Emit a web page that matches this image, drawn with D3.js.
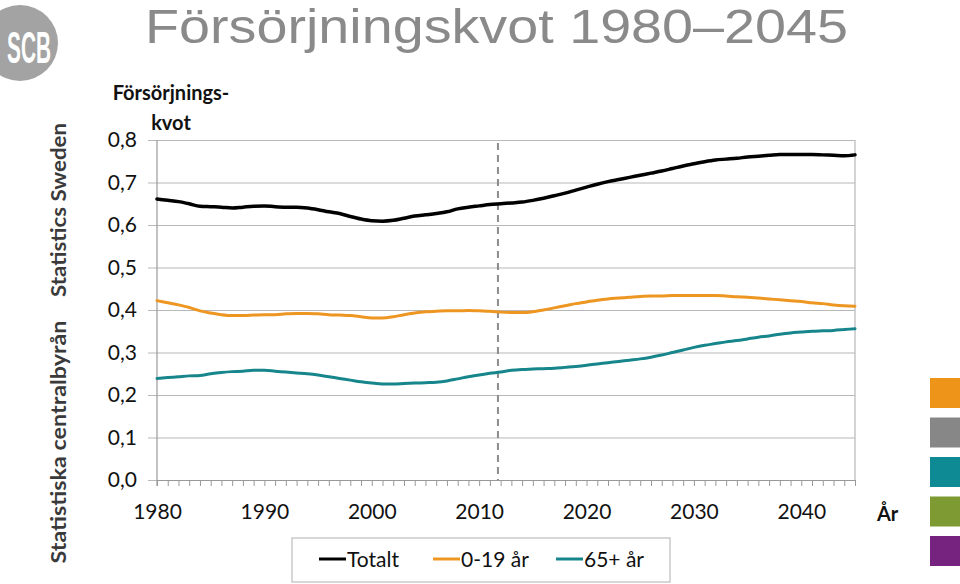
<!DOCTYPE html>
<html><head><meta charset="utf-8">
<script src="https://cdn.jsdelivr.net/npm/d3@7"></script>
<style>
body{margin:0;background:#fff;}
svg{display:block;}
</style></head>
<body>
<svg id="chart" width="960" height="584"></svg>
<script>
const years = d3.range(1980, 2046);
const totalt = [0.661,0.658,0.655,0.650,0.644,0.643,0.642,0.640,0.642,0.644,
0.645,0.643,0.642,0.642,0.640,0.636,0.631,0.627,0.620,0.614,
0.610,0.609,0.611,0.616,0.621,0.624,0.627,0.631,0.638,0.642,
0.645,0.648,0.650,0.652,0.654,0.658,0.663,0.669,0.675,0.682,
0.689,0.696,0.702,0.707,0.712,0.717,0.722,0.727,0.733,0.739,
0.744,0.749,0.753,0.755,0.757,0.760,0.762,0.764,0.766,0.766,
0.766,0.766,0.765,0.764,0.763,0.765];
const unga = [0.422,0.417,0.412,0.406,0.398,0.393,0.389,0.387,0.387,0.388,
0.389,0.389,0.391,0.392,0.392,0.391,0.389,0.388,0.387,0.384,
0.381,0.381,0.384,0.389,0.393,0.396,0.397,0.398,0.398,0.399,
0.398,0.397,0.395,0.394,0.394,0.396,0.400,0.405,0.410,0.415,
0.419,0.423,0.426,0.428,0.430,0.432,0.433,0.433,0.434,0.434,
0.434,0.434,0.434,0.433,0.431,0.430,0.428,0.426,0.424,0.422,
0.420,0.417,0.415,0.412,0.410,0.409];
const aldre = [0.239,0.241,0.243,0.245,0.246,0.250,0.253,0.255,0.256,0.258,
0.258,0.256,0.254,0.252,0.250,0.247,0.243,0.239,0.235,0.231,
0.228,0.226,0.226,0.227,0.228,0.229,0.230,0.233,0.238,0.243,
0.247,0.251,0.254,0.258,0.260,0.261,0.262,0.263,0.265,0.267,
0.270,0.273,0.276,0.279,0.282,0.285,0.289,0.294,0.300,0.306,
0.312,0.317,0.321,0.325,0.328,0.332,0.336,0.339,0.343,0.346,
0.348,0.350,0.351,0.352,0.354,0.356];
const seriesNames = ["Totalt","0-19 år","65+ år"];
const seriesColors = ["#000000","#EE9622","#17868C"];
const yTicks = [0,0.1,0.2,0.3,0.4,0.5,0.6,0.7,0.8];
const xLabelTicks = [1980,1990,2000,2010,2020,2030,2040];
const prognosYear = 2011.75;
const swatchColors = ["#EE9418","#878787","#0E8A94","#7E9A32","#76237F"];

const svg = d3.select("#chart");
const FONT = "Lato, 'Open Sans', sans-serif";
const x = d3.scaleLinear().domain([1980,2045]).range([157,855]);
const y = d3.scaleLinear().domain([0,0.8]).range([480,140]);
const sv = d3.formatLocale({decimal:",",thousands:" ",grouping:[3],currency:["","kr"]});
const fmt = sv.format(".1f");

// Logo
svg.append("circle").attr("cx",20).attr("cy",43).attr("r",38).attr("fill","#a3a3a3");
svg.append("text").attr("x",29).attr("y",0)
  .attr("transform","translate(0,63) scale(1,1.5)")
  .attr("text-anchor","middle").attr("fill","#fff")
  .attr("font-family","'Liberation Sans Narrow','Liberation Sans',sans-serif")
  .attr("font-weight","bold").attr("font-size",30)
  .attr("textLength",44).attr("lengthAdjust","spacingAndGlyphs").text("SCB");

// Title
svg.append("text").attr("x",145).attr("y",43)
  .attr("font-family","'Liberation Sans',Arial,sans-serif").attr("font-size",48)
  .attr("fill","#8a8a8a").attr("textLength",703).attr("lengthAdjust","spacingAndGlyphs")
  .text("Försörjningskvot 1980–2045");

// Side texts
svg.append("text").attr("transform","translate(66,210) rotate(-90)")
  .attr("text-anchor","middle").attr("font-family",FONT).attr("font-weight","bold")
  .attr("font-size",20).attr("fill","#3a3a3a")
  .attr("textLength",174).attr("lengthAdjust","spacingAndGlyphs").text("Statistics Sweden");
svg.append("text").attr("transform","translate(66,442) rotate(-90)")
  .attr("text-anchor","middle").attr("font-family",FONT).attr("font-weight","bold")
  .attr("font-size",20).attr("fill","#3a3a3a")
  .attr("textLength",243).attr("lengthAdjust","spacingAndGlyphs").text("Statistiska centralbyrån");

// Y axis title
svg.append("text").attr("x",171).attr("y",100).attr("text-anchor","middle")
  .attr("font-family",FONT).attr("font-weight","bold").attr("font-size",20).attr("fill","#111")
  .text("Försörjnings-");
svg.append("text").attr("x",171).attr("y",130).attr("text-anchor","middle")
  .attr("font-family",FONT).attr("font-weight","bold").attr("font-size",20).attr("fill","#111")
  .text("kvot");

// Y grid + labels
const yAxis = d3.axisLeft(y).tickValues(yTicks).tickFormat(fmt)
  .tickSizeInner(-(855-148)).tickSizeOuter(0).tickPadding(11);
const gy = svg.append("g").attr("transform","translate(148,0)").call(yAxis);
gy.select(".domain").remove();
gy.selectAll(".tick line").attr("stroke","#b8b8b8").attr("stroke-width",1.2);
gy.selectAll(".tick text").attr("font-family",FONT).attr("font-size",21).attr("fill","#111");

// Plot borders
svg.append("line").attr("x1",157).attr("x2",157).attr("y1",140).attr("y2",486)
  .attr("stroke","#999").attr("stroke-width",1.2);
svg.append("line").attr("x1",855).attr("x2",855).attr("y1",140).attr("y2",480)
  .attr("stroke","#b8b8b8").attr("stroke-width",1.2);

// X axis ticks every year
const xAxisTicks = d3.axisBottom(x).tickValues(years).tickFormat("").tickSizeInner(6).tickSizeOuter(0);
const gx = svg.append("g").attr("transform","translate(0,480)").call(xAxisTicks);
gx.select(".domain").attr("stroke","#999").attr("stroke-width",1.2);
gx.selectAll(".tick line").attr("stroke","#999");
const xAxisLabels = d3.axisBottom(x).tickValues(xLabelTicks).tickFormat(d3.format("d")).tickSize(0).tickPadding(24);
const gxl = svg.append("g").attr("transform","translate(0,480)").call(xAxisLabels);
gxl.select(".domain").remove();
gxl.selectAll(".tick text").attr("font-family",FONT).attr("font-size",21).attr("fill","#111");

svg.append("text").attr("x",877).attr("y",521).attr("font-family",FONT).attr("font-weight","bold")
  .attr("font-size",20).attr("fill","#111").text("År");

// Prognosis line
svg.append("line").attr("x1",x(prognosYear)).attr("x2",x(prognosYear)).attr("y1",143).attr("y2",480)
  .attr("stroke","#8c8c8c").attr("stroke-width",2).attr("stroke-dasharray","7,5");

// Lines
const line = d3.line().x((d,i)=>x(years[i])).y(d=>y(d)).curve(d3.curveMonotoneX);
const data = [totalt, unga, aldre];
const widths = [3.5,3,3];
data.forEach((s,k)=>{
  svg.append("path").datum(s).attr("d",line).attr("fill","none")
    .attr("stroke",seriesColors[k]).attr("stroke-width",widths[k])
    .attr("stroke-linejoin","round").attr("stroke-linecap","round");
});

// Legend
svg.append("rect").attr("x",292).attr("y",538).attr("width",378).attr("height",44)
  .attr("fill","#fff").attr("stroke","#bdbdbd").attr("stroke-width",1.2);
const legX = [319,433,556];
seriesNames.forEach((n,k)=>{
  svg.append("line").attr("x1",legX[k]).attr("x2",legX[k]+27).attr("y1",559).attr("y2",559)
    .attr("stroke",seriesColors[k]).attr("stroke-width",3);
  svg.append("text").attr("x",legX[k]+28).attr("y",567).attr("font-family",FONT)
    .attr("font-size",21).attr("fill","#111").text(n);
});

// Swatches at right
swatchColors.forEach((c,i)=>{
  svg.append("rect").attr("x",930).attr("y",378+i*39.5).attr("width",30).attr("height",30).attr("fill",c);
});
</script>
</body></html>
